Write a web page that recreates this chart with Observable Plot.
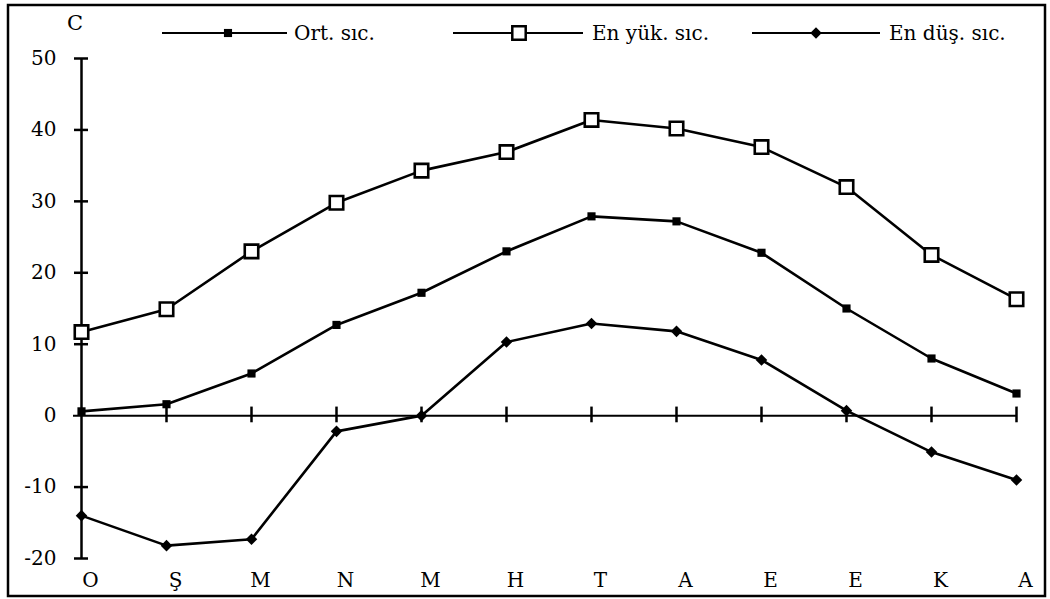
<!DOCTYPE html>
<html>
<head>
<meta charset="utf-8">
<script src="https://cdn.jsdelivr.net/npm/d3@7"></script>
<script src="https://cdn.jsdelivr.net/npm/@observablehq/plot@0.6"></script>
<style>
  html, body { margin: 0; padding: 0; background: #fff; }
  #chart { position: relative; width: 1050px; height: 599px; }
</style>
</head>
<body>
<div id="chart"></div>
<script>
// Data
const months = ["O","Ş","M","N","M","H","T","A","E","E","K","A"];
const ortSic = [0.6, 1.6, 5.9, 12.7, 17.2, 23.0, 27.9, 27.2, 22.8, 15.0, 8.0, 3.1];
const enYukSic = [11.7, 14.9, 23.0, 29.8, 34.3, 36.9, 41.4, 40.2, 37.6, 32.0, 22.5, 16.3];
const enDusSic = [-14.0, -18.2, -17.3, -2.2, 0.0, 10.3, 12.9, 11.8, 7.8, 0.7, -5.1, -9.0];
const yTicks = [-20, -10, 0, 10, 20, 30, 40, 50];
const seriesNames = ["Ort. sıc.", "En yük. sıc.", "En düş. sıc."];
const unitLabel = "C";

const idx = d3.range(months.length);
const rows = (vals) => idx.map(i => ({i, v: vals[i]}));
const ort = rows(ortSic), yuk = rows(enYukSic), dus = rows(enDusSic);

const font = "'DejaVu Serif', 'Liberation Serif', serif";

const plot = Plot.plot({
  width: 1050,
  height: 599,
  marginLeft: 78,
  marginRight: 32,
  marginTop: 58,
  marginBottom: 41,
  style: {fontFamily: font, fontSize: "20px", color: "#000", background: "transparent"},
  x: {type: "point", domain: idx, padding: 0, axis: null},
  y: {domain: [-20, 50], axis: null},
  marks: [
    // y axis line and crossing ticks
    Plot.ruleX([0], {x: d => d, y1: -20, y2: 50, stroke: "#000", strokeWidth: 2.5}),
    Plot.ruleY(yTicks.filter(t => t !== 0), {y: d => d, x1: () => 0, x2: () => 0, insetLeft: -7, insetRight: -7, stroke: "#000", strokeWidth: 2.5}),
    // zero line and month ticks
    Plot.ruleY([0], {y: d => d, x1: () => 0, x2: () => 11, insetLeft: -8, stroke: "#000", strokeWidth: 2}),
    Plot.ruleX(idx.slice(1), {x: d => d, y1: -1, y2: 1.2, stroke: "#000", strokeWidth: 2.5}),
    // y tick labels
    Plot.text(yTicks, {x: () => 0, y: d => d, text: d => String(d), textAnchor: "end", dx: -25, fontSize: 20, fill: "#000"}),
    // x tick labels
    Plot.text(idx, {x: d => d, y: () => -20, text: d => months[d], dx: 9, dy: 22, fontSize: 20, fill: "#000"}),
    // series
    Plot.line(yuk, {x: "i", y: "v", stroke: "#000", strokeWidth: 2.6}),
    Plot.line(ort, {x: "i", y: "v", stroke: "#000", strokeWidth: 2.6}),
    Plot.line(dus, {x: "i", y: "v", stroke: "#000", strokeWidth: 2.6}),
    Plot.dot(yuk, {x: "i", y: "v", symbol: "square", r: 7.6, fill: "#fff", stroke: "#000", strokeWidth: 2.6}),
    Plot.dot(ort, {x: "i", y: "v", symbol: "square", r: 4.6, fill: "#000", stroke: "none"}),
    Plot.dot(dus, {x: "i", y: "v", symbol: "diamond2", r: 5.2, fill: "#000", stroke: "none"})
  ]
});

document.getElementById("chart").appendChild(plot);

// Frame, unit label and legend (decoration)
const svg = d3.select(plot);
svg.append("rect").attr("x", 8).attr("y", 5).attr("width", 1037).attr("height", 591)
  .attr("fill", "none").attr("stroke", "#000").attr("stroke-width", 2.5);
svg.append("text").attr("x", 75).attr("y", 30).attr("text-anchor", "middle")
  .attr("font-family", font).attr("font-size", 21).text(unitLabel);

const legendItems = [
  {x1: 162, x2: 287, m: 228, tx: 294, sym: d3.symbolSquare, size: 66, fill: "#000", stroke: "none"},
  {x1: 453, x2: 583, m: 519, tx: 592, sym: d3.symbolSquare, size: 180, fill: "#fff", stroke: "#000"},
  {x1: 752, x2: 880, m: 816, tx: 889, sym: d3.symbolDiamond2, size: 85, fill: "#000", stroke: "none"}
];
legendItems.forEach((it, k) => {
  const g = svg.append("g");
  g.append("line").attr("x1", it.x1).attr("x2", it.x2).attr("y1", 33).attr("y2", 33)
    .attr("stroke", "#000").attr("stroke-width", 2.2);
  g.append("path").attr("d", d3.symbol(it.sym, it.size)()).attr("transform", `translate(${it.m},33)`)
    .attr("fill", it.fill).attr("stroke", it.stroke).attr("stroke-width", 2.5);
  g.append("text").attr("x", it.tx).attr("y", 40).attr("text-anchor", "start")
    .attr("font-family", font).attr("font-size", 20)
    .text(seriesNames[k]);
});
</script>
</body>
</html>
